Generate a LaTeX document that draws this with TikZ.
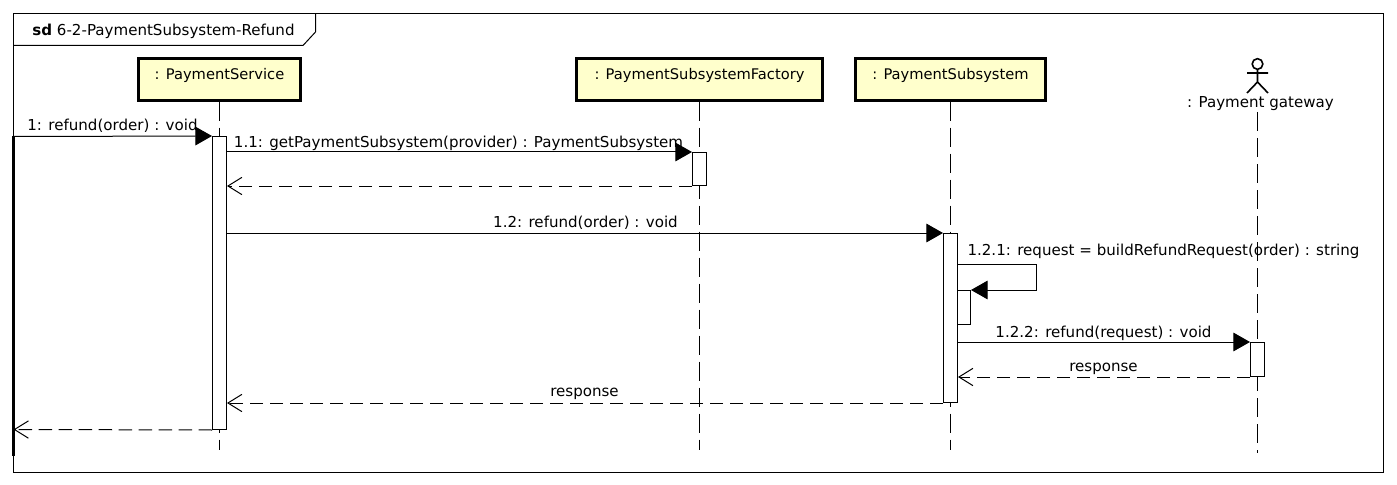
\documentclass[tikz,border=0pt]{standalone}
\usepackage{fontspec}
\setmainfont{DejaVu Sans}
\usetikzlibrary{arrows.meta}
\definecolor{partfill}{HTML}{FFFFCC}

\begin{document}
\begin{tikzpicture}[x=0.75pt,y=-0.75pt,
    txt/.style={inner sep=0pt,anchor=base,font=\fontsize{11.3}{13}\selectfont},
    partbox/.style={draw,line width=2.25pt,fill=partfill,inner sep=0pt,text height=15.4pt,
      text depth=15.4pt,font=\fontsize{11}{13}\selectfont},
    lifeline/.style={line width=0.75pt,dash pattern=on 14.5pt off 5pt},
    activation/.style={draw,line width=0.75pt,fill=white,inner sep=0pt,minimum width=10.5pt},
    call/.style={line width=0.75pt,-{Triangle[length=12.5pt,width=14pt]}},
    reply/.style={line width=0.75pt,dash pattern=on 10pt off 5pt,
      -{Straight Barb[length=10.5pt,width=13pt,line width=0.75pt]}}]
    \useasboundingbox (0,0) rectangle (1397,485);

    % Frame and its tab
    \draw[line width=0.75pt] (13.5,13.5) rectangle (1383.5,472.5);
    \draw[line width=0.75pt] (13.5,45.5) -- (303,45.5) -- (315.5,32) -- (315.5,13.5);
    \node[txt] (title) at (163.5,36) {\textbf{sd} 6-2-PaymentSubsystem-Refund};

    % Lifeline heads
    \node[partbox,minimum width=122pt] (service) at (219.5,79.5) {: PaymentService};
    \node[partbox,minimum width=184pt] (factory) at (699.5,79.5) {: PaymentSubsystemFactory};
    \node[partbox,minimum width=143pt] (subsystem) at (950.5,79.5) {: PaymentSubsystem};

    % Actor
    \node[circle,draw,line width=1.2pt,inner sep=0pt,minimum size=8pt] (head) at (1257.5,64) {};
    \coordinate (hip) at (1257.5,82);
    \draw[line width=1.2pt] (head) -- (hip) (1247,73) -- (1268,73)
      (1247,93) -- (hip) -- (1268,93);
    \node[txt] (gateway) at (1260.5,108) {: Payment gateway};

    % Lifelines
    \coordinate (serviceend) at (219.5,450);
    \coordinate (factoryend) at (699.5,450);
    \coordinate (subsystemend) at (950.5,450);
    \coordinate (gatewaytop) at (1257.5,112);
    \coordinate (gatewayend) at (1257.5,453);
    \draw[lifeline] (service.south) -- (serviceend);
    \draw[lifeline] (factory.south) -- (factoryend);
    \draw[lifeline] (subsystem.south) -- (subsystemend);
    \draw[lifeline] (gatewaytop) -- (gatewayend);

    % Found side on the left
    \coordinate (leftin) at (13.5,136.5);
    \coordinate (leftout) at (13.5,429.5);
    \coordinate (leftend) at (13.5,456);
    \draw[line width=2pt] (leftin) -- (leftend);

    % Activations
    \node[activation,minimum height=219.75pt] (a1) at (219.5,283) {};
    \node[activation,minimum height=24.75pt] (a2) at (699.5,169) {};
    \node[activation,minimum height=25.5pt] (a5) at (1257.5,359.5) {};
    \node[activation,minimum width=9.75pt,minimum height=25.5pt] (a4) at (964,307.5) {};
    \node[activation,minimum height=126.75pt] (a3) at (950.5,318) {};

    % Messages
    \draw[call] (leftin) -- (a1.north west);
    \node[txt] (m1) at (112.5,131) {1: refund(order) : void};

    \draw[call] (a1.east |- a2.north) -- (a2.north west);
    \node[txt] (m11) at (458.5,147) {1.1: getPaymentSubsystem(provider) : PaymentSubsystem};
    \draw[reply] (a2.south west) -- (a1.east |- a2.south);

    \draw[call] (a1.east |- a3.north) -- (a3.north west);
    \node[txt] (m12) at (585.5,227) {1.2: refund(order) : void};

    \coordinate (selfout) at (957.5,264.5);
    \coordinate (selfturn) at (1036.5,264.5);
    \draw[call] (selfout) -- (selfturn) -- (selfturn |- a4.north) -- (a4.north east);
    \node[txt] (m121) at (1163.5,255) {1.2.1: request = buildRefundRequest(order) : string};

    \draw[call] (a3.east |- a5.north) -- (a5.north west);
    \node[txt] (m122) at (1103.5,337) {1.2.2: refund(request) : void};
    \draw[reply] (a5.south west) -- (a3.east |- a5.south);
    \node[txt] (r122) at (1103.5,371) {response};

    \draw[reply] (a3.south west) -- (a1.east |- a3.south);
    \node[txt] (r12) at (584.5,396) {response};

    \draw[reply] (a1.south west) -- (leftout);
  \end{tikzpicture}
\end{document}
